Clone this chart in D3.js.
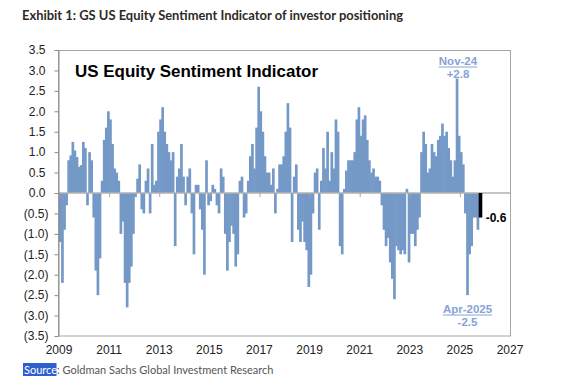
<!DOCTYPE html>
<html>
<head>
<meta charset="utf-8">
<script src="https://d3js.org/d3.v7.min.js"></script>
<style>
  body { margin: 0; background: #fff; }
  svg { display: block; }
</style>
</head>
<body>
<div id="chart"></div>
<script>
// monthly readings of the indicator, Jan 2009 onwards
var startYear = 2009;
var sentiment = [
  -1.2, -2.2, -0.9, -0.3,  0.8,  0.92, 1.25, 1.04, 0.88, 0.64, 0.68, 1.25,  // 2009
   1.1, -0.3,  1.0,  0.8, -0.6, -1.9, -2.5, -1.6,  0.3,  1.3,  1.6,  2.0,   // 2010
   1.8,  1.2,  0.6,  0.5,  0.3, -1.0, -0.7, -2.2, -2.8, -2.2, -1.8, -1.0,   // 2011
  -0.1,  0.35, 0.7, -0.4, -0.5,  0.3,  0.6, -0.5,  1.2,  0.2,  0.3,  1.5,   // 2012
   1.8,  2.1,  1.5,  1.2,  1.0,  0.8,  1.0, -1.3,  0.4,  0.6,  1.2,  0.4,   // 2013
  -0.3,  0.4,  0.6, -0.5, -1.5,  0.2,  0.2, -0.4, -0.9, -2.0,  0.8, -0.3,   // 2014
  -0.2,  0.2,  0.1, -0.3, -0.5,  0.6,  0.4, -1.0, -1.9, -1.2, -0.8, -1.0,   // 2015
  -1.8, -1.5,  0.3,  0.4, -0.6, -0.5,  0.3,  0.9,  1.2,  0.6,  1.6,  2.6,   // 2016
   2.0,  1.5,  0.9,  0.5,  0.5,  0.2,  0.6, -0.5,  0.1,  0.7,  0.7,  0.9,   // 2017
   1.5,  2.2,  1.6, -1.2,  0.4,  0.7, -0.9, -1.2, -0.7, -1.2, -1.4, -2.3,   // 2018
  -2.0, -0.5,  0.5,  0.6, -0.9,  0.3,  1.1,  0.6,  1.5,  0.3,  1.0,  0.6,   // 2019
   1.8,  1.5, -1.3, -1.5,  0.1,  0.55, 0.8,  0.8,  0.8,  1.0,  1.8,  2.1,   // 2020
   1.4,  1.8,  1.9,  1.3,  0.8,  0.5,  0.6,  0.4,  0.4,  0.3, -0.3, -0.9,   // 2021
  -1.3, -1.1, -1.7, -2.1, -2.6, -1.3, -1.4, -1.5, -1.4, -1.5,  0.1, -1.7,   // 2022
  -1.0, -1.0, -1.3, -0.9, -0.6,  1.0,  1.5,  1.2,  0.5,  0.6,  1.2,  1.0,   // 2023
   0.9,  1.3,  1.4,  1.7,  1.4,  1.5,  1.1,  0.8,  0.4,  0.8,  2.8,  1.4,   // 2024
   1.0,  0.7, -0.5, -2.5, -1.5, -1.3, -0.6, -0.6, -0.9                      // 2025
];
var latest = { date: 2025.75, value: -0.6 };

var yTicks = [3.5, 3.0, 2.5, 2.0, 1.5, 1.0, 0.5, 0.0, -0.5, -1.0, -1.5, -2.0, -2.5, -3.0, -3.5];
var xTicks = [2009, 2011, 2013, 2015, 2017, 2019, 2021, 2023, 2025, 2027];

var W = 571, H = 390;
var barColor = "#7499c7", noteColor = "#86a3d4";

var svg = d3.select("#chart").append("svg")
    .attr("width", W)
    .attr("height", H)
    .style("font-family", "Arial, 'Liberation Sans', sans-serif");

var x = d3.scaleLinear().domain([2009, 2027]).range([59, 510]);
var y = d3.scaleLinear().domain([-3.5, 3.5]).range([336, 50]);

var data = sentiment.map(function(v, i) {
  return { date: startYear + i / 12, value: v };
});

// headline
svg.append("text")
    .attr("x", 22).attr("y", 20)
    .attr("textLength", 381).attr("lengthAdjust", "spacingAndGlyphs")
    .style("font-family", "Lato, sans-serif")
    .style("font-weight", "bold")
    .style("font-size", "13.5px")
    .style("fill", "#2e2a28")
    .text("Exhibit 1: GS US Equity Sentiment Indicator of investor positioning");

// plot frame
svg.append("rect")
    .attr("x", 58.5).attr("y", 50.5)
    .attr("width", 452).attr("height", 285.5)
    .attr("fill", "none")
    .attr("stroke", "#a6a6a6");

// bars (slightly overlapping so the area reads solid)
var bw = x(startYear + 1 / 12) - x(startYear);
svg.append("g").selectAll("rect")
  .data(data)
  .join("rect")
    .attr("x", function(d) { return x(d.date); })
    .attr("width", bw + 0.6)
    .attr("y", function(d) { return Math.min(y(d.value), y(0)); })
    .attr("height", function(d) { return Math.abs(y(d.value) - y(0)); })
    .attr("fill", barColor);

// zero line + year ticks
svg.append("line")
    .attr("x1", 58.5).attr("x2", 511)
    .attr("y1", y(0)).attr("y2", y(0))
    .attr("stroke", "#b2b2b2")
    .attr("stroke-width", 1.5);

var xAxis = svg.append("g")
    .attr("transform", "translate(0," + y(0) + ")")
    .call(d3.axisBottom(x).tickValues(xTicks).tickSize(4).tickFormat(""));
xAxis.select(".domain").remove();
xAxis.selectAll("line").attr("stroke", "#a6a6a6");

// latest reading
svg.append("rect")
    .attr("x", x(latest.date))
    .attr("width", 3.6)
    .attr("y", y(0))
    .attr("height", y(latest.value) - y(0))
    .attr("fill", "#000");
svg.append("text")
    .attr("x", x(latest.date) + 7).attr("y", y(latest.value) + 4)
    .style("font-weight", "bold").style("font-size", "12px")
    .text(latest.value.toFixed(1));

// y axis
var yAxis = svg.append("g")
    .attr("transform", "translate(58.5,0)")
    .call(d3.axisLeft(y).tickValues(yTicks).tickSize(4).tickSizeOuter(0).tickPadding(6)
      .tickFormat(function(v) { return v < 0 ? "(" + Math.abs(v).toFixed(1) + ")" : v.toFixed(1); }));
yAxis.select(".domain").attr("stroke", "#8c8c8c");
yAxis.selectAll("line").attr("stroke", "#8c8c8c");
yAxis.selectAll("text")
    .style("font-size", "12px")
    .style("font-family", "Arial, 'Liberation Sans', sans-serif")
    .attr("fill", "#222")
    .attr("dx", function(v) { return v < 0 ? 0 : -3; });

// x labels
svg.append("g").selectAll("text")
  .data(xTicks)
  .join("text")
    .attr("x", function(d) { return x(d); })
    .attr("y", 354)
    .attr("text-anchor", "middle")
    .style("font-size", "12px")
    .attr("fill", "#222")
    .text(function(d) { return d; });

// chart title inside plot
svg.append("text")
    .attr("x", 75).attr("y", 77)
    .attr("textLength", 243).attr("lengthAdjust", "spacingAndGlyphs")
    .style("font-weight", "bold")
    .style("font-size", "16.5px")
    .attr("fill", "#000")
    .text("US Equity Sentiment Indicator");

// call-outs
function callout(cx, y1, label, val) {
  var t = svg.append("text")
      .attr("x", cx).attr("y", y1)
      .attr("text-anchor", "middle")
      .style("font-weight", "bold").style("font-size", "11.5px")
      .attr("fill", noteColor)
      .text(label);
  var w = t.node().getComputedTextLength();
  svg.append("line")
      .attr("x1", cx - w / 2).attr("x2", cx + w / 2)
      .attr("y1", y1 + 2).attr("y2", y1 + 2)
      .attr("stroke", noteColor).attr("stroke-width", 1);
  svg.append("text")
      .attr("x", cx).attr("y", y1 + 12.5)
      .attr("text-anchor", "middle")
      .style("font-weight", "bold").style("font-size", "11.5px")
      .attr("fill", noteColor)
      .text(val);
}
callout(458, 65, "Nov-24", "+2.8");
callout(467.5, 313, "Apr-2025", "-2.5");

// source line
var src = svg.append("g").attr("transform", "translate(23,0)");
src.append("rect")
    .attr("x", 0).attr("y", 363)
    .attr("width", 33.5).attr("height", 13)
    .attr("fill", "#2f5fcf");
src.append("text")
    .attr("x", 1).attr("y", 373.5)
    .style("font-family", "Lato, sans-serif").style("font-size", "11px")
    .attr("fill", "#fff")
    .text("Source");
src.append("text")
    .attr("x", 34).attr("y", 373.5)
    .style("font-family", "Lato, sans-serif").style("font-size", "11px")
    .attr("fill", "#555")
    .text(": Goldman Sachs Global Investment Research");
</script>
</body>
</html>
